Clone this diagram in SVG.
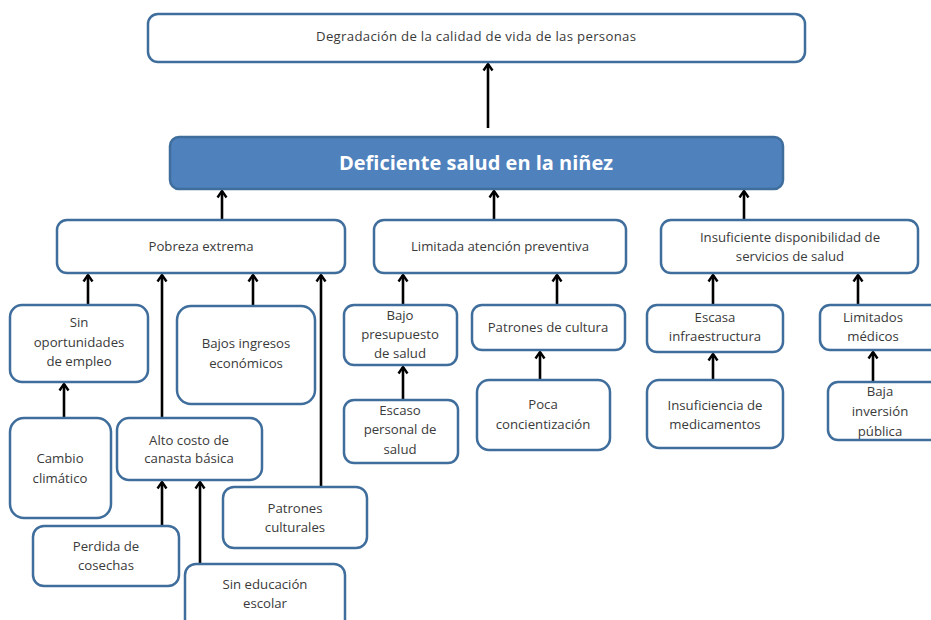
<svg xmlns="http://www.w3.org/2000/svg" width="931" height="620" viewBox="0 0 931 620">
<defs>
<marker id="ah" viewBox="0 0 12 12" refX="9.5" refY="6" markerWidth="12" markerHeight="12" markerUnits="userSpaceOnUse" orient="auto">
<polyline points="3,1.5 9.5,6 3,10.5" fill="none" stroke="#000" stroke-width="2.4" stroke-linejoin="miter"/>
</marker>
</defs>
<style>
.b{fill:#fff;stroke:#3f6d9c;stroke-width:2.5}
.m{fill:#4f81bd;stroke:#3f6d9c;stroke-width:2.5}
text{font-family:"Open Sans","Liberation Sans",sans-serif;font-size:13.2px;fill:#3a3a3a;text-anchor:middle}
.t{font-family:"Open Sans","Liberation Sans",sans-serif;font-size:20px;font-weight:bold;fill:#fff}
.c line{stroke:#000;stroke-width:2.6;marker-end:url(#ah)}
</style>
<rect width="931" height="620" fill="#fff"/>
<g class="c">
<line x1="488" y1="128" x2="488" y2="64"/>
<line x1="222" y1="220" x2="222" y2="191"/>
<line x1="494" y1="220" x2="494" y2="191"/>
<line x1="744" y1="220" x2="744" y2="191"/>
<line x1="88" y1="305" x2="88" y2="275"/>
<line x1="162" y1="418" x2="162" y2="275"/>
<line x1="253" y1="306" x2="253" y2="275"/>
<line x1="321" y1="487" x2="321" y2="275"/>
<line x1="64" y1="418" x2="64" y2="384"/>
<line x1="162" y1="526" x2="162" y2="482"/>
<line x1="200" y1="564" x2="200" y2="482"/>
<line x1="403" y1="305" x2="403" y2="275"/>
<line x1="403" y1="400" x2="403" y2="367"/>
<line x1="557" y1="305" x2="557" y2="275"/>
<line x1="540" y1="380" x2="540" y2="352"/>
<line x1="713" y1="305" x2="713" y2="275"/>
<line x1="713" y1="380" x2="713" y2="354"/>
<line x1="858" y1="305" x2="858" y2="275"/>
<line x1="873" y1="382" x2="873" y2="352"/>
</g>
<g id="n_top"><rect class="b" x="148" y="14" width="657" height="48" rx="10"/><text x="476" y="41" textLength="320" lengthAdjust="spacing" font-size="12.5">Degradación de la calidad de vida de las personas</text></g>
<g id="n_main"><rect class="m" x="170" y="137" width="613" height="52" rx="9"/><text class="t" x="476" y="170">Deficiente salud en la niñez</text></g>
<g id="n_pobreza"><rect class="b" x="57" y="220" width="288" height="53" rx="10"/><text x="201" y="251">Pobreza extrema</text></g>
<g id="n_limitada"><rect class="b" x="374" y="220" width="252" height="53" rx="10"/><text x="500" y="251">Limitada atención preventiva</text></g>
<g id="n_insuf"><rect class="b" x="661" y="220" width="257" height="53" rx="10"/><text x="790" y="242">Insuficiente disponibilidad de</text><text x="790" y="261">servicios de salud</text></g>
<g id="n_sinop"><rect class="b" x="10" y="305" width="138" height="77" rx="12"/><text x="79" y="327">Sin</text><text x="79" y="347">oportunidades</text><text x="79" y="366">de empleo</text></g>
<g id="n_bajos"><rect class="b" x="177" y="306" width="138" height="98" rx="14"/><text x="246" y="348">Bajos ingresos</text><text x="246" y="368">económicos</text></g>
<g id="n_cambio"><rect class="b" x="10" y="418" width="101" height="100" rx="14"/><text x="60" y="463">Cambio</text><text x="60" y="483">climático</text></g>
<g id="n_alto"><rect class="b" x="117" y="418" width="145" height="62" rx="12"/><text x="189" y="445">Alto costo de</text><text x="189" y="463">canasta básica</text></g>
<g id="n_perdida"><rect class="b" x="33" y="526" width="146" height="60" rx="11"/><text x="106" y="551">Perdida de</text><text x="106" y="570">cosechas</text></g>
<g id="n_sinedu"><rect class="b" x="185" y="564" width="160" height="70" rx="11"/><text x="265" y="589">Sin educación</text><text x="265" y="608">escolar</text></g>
<g id="n_patcult"><rect class="b" x="223" y="487" width="144" height="61" rx="11"/><text x="295" y="513">Patrones</text><text x="295" y="532">culturales</text></g>
<g id="n_bajopres"><rect class="b" x="344" y="305" width="113" height="60" rx="10"/><text x="400" y="320">Bajo</text><text x="400" y="339">presupuesto</text><text x="400" y="358">de salud</text></g>
<g id="n_escaso"><rect class="b" x="344" y="400" width="114" height="63" rx="10"/><text x="400" y="415">Escaso</text><text x="400" y="434">personal de</text><text x="400" y="454">salud</text></g>
<g id="n_patcul2"><rect class="b" x="472" y="305" width="153" height="45" rx="10"/><text x="548" y="332">Patrones de cultura</text></g>
<g id="n_poca"><rect class="b" x="477" y="380" width="133" height="70" rx="12"/><text x="543" y="409">Poca</text><text x="543" y="429">concientización</text></g>
<g id="n_escasa"><rect class="b" x="647" y="305" width="136" height="47" rx="10"/><text x="715" y="322">Escasa</text><text x="715" y="341">infraestructura</text></g>
<g id="n_insufmed"><rect class="b" x="647" y="380" width="136" height="68" rx="12"/><text x="715" y="410">Insuficiencia de</text><text x="715" y="429">medicamentos</text></g>
<g id="n_limmed"><rect class="b" x="820" y="305" width="125" height="45" rx="10"/><text x="873" y="322">Limitados</text><text x="873" y="341">médicos</text></g>
<g id="n_baja"><rect class="b" x="828" y="382" width="117" height="58" rx="10"/><text x="880" y="396">Baja</text><text x="880" y="416">inversión</text><text x="880" y="436">pública</text></g>
</svg>
